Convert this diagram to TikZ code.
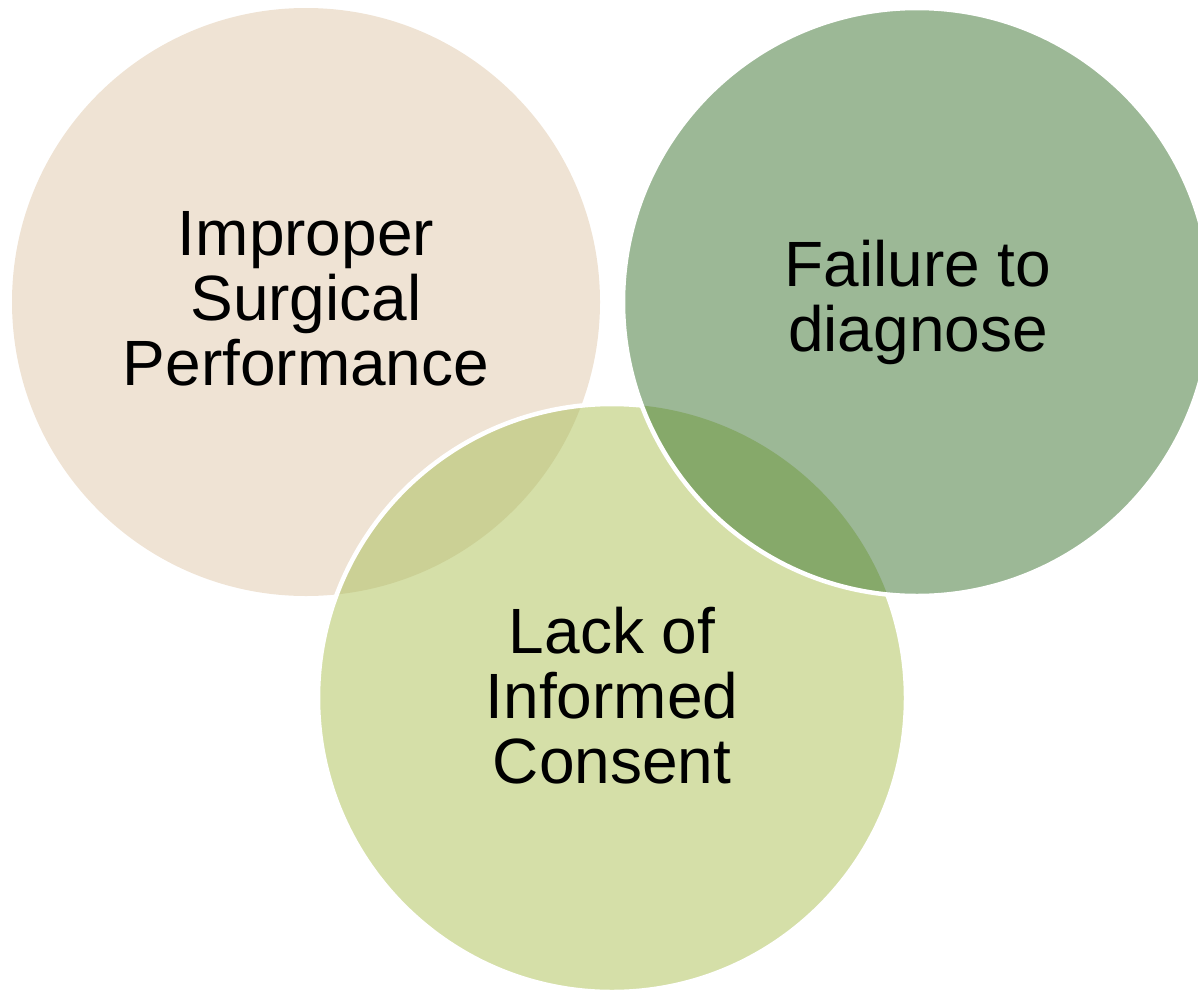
\documentclass[tikz,border=0pt]{standalone}
\usepackage{fontspec}
\setmainfont{Liberation Sans}
\begin{document}
\begin{tikzpicture}[x=1pt,y=-1pt,
  vennlabel/.style={font=\fontsize{64}{65}\selectfont, align=center, inner sep=0pt, text=black},
  ringline/.style={draw=white, line width=4.5pt}]
\definecolor{vennBeige}{RGB}{239,227,212}
\definecolor{vennSage}{RGB}{156,184,150}
\definecolor{vennLime}{RGB}{213,223,168}
\definecolor{vennOlive}{RGB}{203,208,149}
\definecolor{vennDeep}{RGB}{134,169,106}
\useasboundingbox (0,0) rectangle (1198,990);
\clip (0,0) rectangle (1198,990);
\def\R{294}
\coordinate (c1) at (306,302);
\coordinate (c2) at (917,302);
\coordinate (c3) at (612,698);
% left circle
\fill[vennBeige] (c1) circle[radius=\R];
% lower circle with its overlap on the left circle
\fill[vennLime] (c3) circle[radius=\R];
\begin{scope}
  \clip (c1) circle[radius=\R];
  \fill[vennOlive] (c3) circle[radius=\R];
\end{scope}
\draw[ringline] (c3) circle[radius=\R];
% right circle with its overlap on the lower circle
\fill[vennSage] (c2) circle[radius=\R];
\begin{scope}
  \clip (c2) circle[radius=\R];
  \fill[vennDeep] (c3) circle[radius=\R];
\end{scope}
\draw[ringline] (c2) circle[radius=\R];
% labels (anchored at the baseline of their last line)
\node[vennlabel, anchor=base] (t1) at (306,385) {Improper\\Surgical\\Performance};
\node[vennlabel, anchor=base] (t2) at (918,351) {Failure to\\diagnose};
\node[vennlabel, anchor=base] (t3) at (612,783) {Lack of\\Informed\\Consent};
\end{tikzpicture}
\end{document}
